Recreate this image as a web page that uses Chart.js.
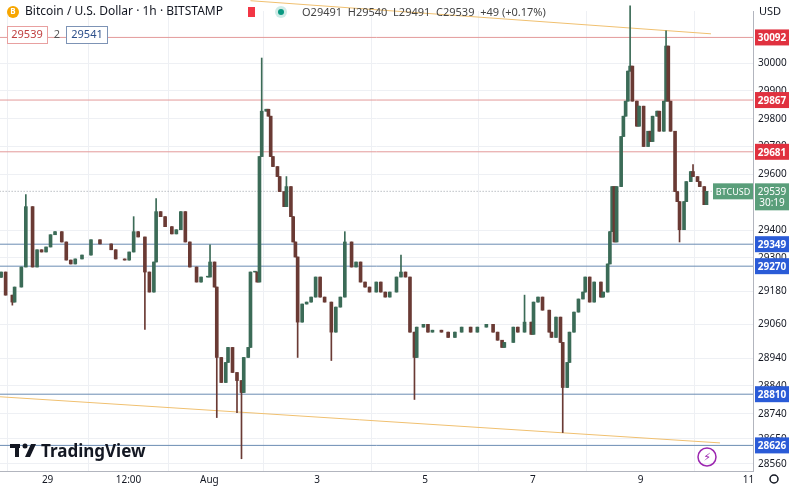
<!DOCTYPE html>
<html>
<head>
<meta charset="utf-8">
<script src="https://cdn.jsdelivr.net/npm/chart.js@4"></script>
<style>
  html, body { margin: 0; padding: 0; background: #fff; }
  #wrap { width: 792px; height: 489px; position: relative; }
</style>
</head>
<body>
<div id="wrap"><canvas id="btcChart" width="792" height="489"></canvas></div>
<script>
// hours since first candle (Jul 28 ~03:00)
const hours = [0,2,5,6,9,11,14,16,18,20,22,24,27,29,31,33,36,40,44,49,51,55,57,59,61,64,66,68,69,71,
  73,76,78,80,82,84,87,89,92,93,95,96,98,100,101,103,105,107,108,110,111,113,114,
  115,116,118,119,120,121,123,124,126,127,129,130,131,132,134,136,138,140,142,144,
  147,149,151,153,156,158,160,162,164,167,169,171,173,176,178,180,182,184,185,188,
  190,192,196,199,202,205,209,212,216,219,221,223,224,228,230,233,236,237,239,241,
  244,245,247,249,250,252,253,255,257,259,260,262,264,267,268,270,271,272,273,274,
  276,277,278,279,280,281,283,284,286,288,289,290,292,293,295,296,297,298,300,301,
  302,304,305,307,308,310,311,313,314];
const closes = [29249,29166,29141,29195,29267,29484,29267,29329,29321,29339,29383,29394,29357,29292,29278,29296,29310,29365,29350,29329,
  29296,29292,29321,29394,29375,29249,29177,29285,29466,29448,29412,29386,29401,29466,29357,29267,29213,29231,29231,29285,
  29195,28942,28852,28924,28978,28888,28859,28816,28942,28978,29249,29249,29213,
  29664,29827,29834,29809,29664,29628,29592,29538,29484,29556,29448,29357,29303,29069,29134,29141,29159,29231,29159,29141,
  29033,29123,29159,29357,29267,29285,29213,29195,29177,29213,29177,29159,29177,29231,29249,29231,29033,28942,29051,29061,
  29033,29040,29033,29014,29033,29051,29033,29051,29061,29033,29004,28978,28996,29051,29033,29069,29025,29141,29159,29112,
  29033,29014,29087,28996,28834,28924,29033,29105,29152,29177,29231,29141,29213,29159,29177,29278,29394,29556,29357,29556,
  29736,29809,29863,29971,29989,29863,29773,29845,29700,29755,29718,29809,29827,29755,29863,30061,29863,29755,29538,29502,
  29401,29502,29574,29610,29592,29574,29556,29491,29539];
const firstOpen = 29230;
// wick extremes by hour
const highSpikes = {11:29527, 59:29448, 69:29513, 93:29347, 116:30018, 127:29592, 153:29394, 178:29310, 233:29166, 280:30206, 296:30116, 308:29635};
const lowSpikes = {5:29130, 64:29043, 96:28726, 105:28744, 107:28578, 132:28942, 147:28931, 184:28791, 250:28672, 302:29357};

const resistance = [30092, 29867, 29681];
const support = [29349, 29270, 28810, 28626];
const lastPrice = 29539;
const upperTrend = [{x:111, y:30224}, {x:316, y:30105}];
const lowerTrend = [{x:-1, y:28801}, {x:320, y:28635}];
const yTicks = [30000,29900,29800,29700,29600,29400,29300,29180,29060,28940,28840,28740,28650,28560];
const xTickHours = [20.7, 56.7, 92.7, 140.7, 188.7, 236.7, 284.7, 332.7];
const xTickLabels = ['29', '12:00', 'Aug', '3', '5', '7', '9', '11'];

const upColor = "#3b6b57", downColor = "#6a3a34";
const wicks = [], bodies = [], colors = [];
hours.forEach((h, i) => {
  const o = i === 0 ? firstOpen : closes[i - 1];
  const c = closes[i];
  const hi = highSpikes[h] !== undefined ? highSpikes[h] : Math.max(o, c);
  const lo = lowSpikes[h] !== undefined ? lowSpikes[h] : Math.min(o, c);
  wicks.push({x: h, y: [lo, hi]});
  bodies.push({x: h, y: [Math.min(o, c), Math.max(o, c) + (o === c ? 3 : 0)]});
  colors.push(c >= o ? upColor : downColor);
});

const hLine = (p, col, dash) => ({
  type: 'line', data: [{x:-2, y:p}, {x:340, y:p}], borderColor: col, borderWidth: 1,
  borderDash: dash || [], pointRadius: 0, order: 5
});

const overlay = {
  id: 'overlay',
  afterDraw(chart) {
    const ctx = chart.ctx, ys = chart.scales.y;
    ctx.save();
    // header
    ctx.fillStyle = "#f7a600";
    ctx.beginPath(); ctx.arc(13, 12, 6, 0, Math.PI * 2); ctx.fill();
    ctx.fillStyle = "#fff"; ctx.font = "bold 8px 'Noto Sans'"; ctx.textAlign = "center"; ctx.textBaseline = "middle";
    ctx.fillText("B", 13, 12);
    ctx.textAlign = "left";
    ctx.fillStyle = "#131722"; ctx.font = "12px 'Noto Sans'";
    ctx.fillText("Bitcoin / U.S. Dollar · 1h · BITSTAMP", 25, 12);
    ctx.fillStyle = "#f23645"; ctx.fillRect(248, 7, 7, 10);
    ctx.fillStyle = "rgba(8,153,129,0.2)"; ctx.beginPath(); ctx.arc(281, 12, 6, 0, Math.PI * 2); ctx.fill();
    ctx.fillStyle = "#089981"; ctx.beginPath(); ctx.arc(281, 12, 3, 0, Math.PI * 2); ctx.fill();
    ctx.fillStyle = "#444"; ctx.font = "11px 'Noto Sans'";
    ctx.fillText("O29491  H29540  L29491  C29539  +49 (+0.17%)", 302, 13);
    // bid/ask boxes
    ctx.fillStyle = "#fff";
    ctx.fillRect(7, 26, 41, 18); ctx.fillRect(66, 26, 42, 18);
    ctx.lineWidth = 1;
    ctx.strokeStyle = "#e8a0a0"; ctx.strokeRect(7.5, 26.5, 40, 17);
    ctx.strokeStyle = "#7d93b5"; ctx.strokeRect(66.5, 26.5, 41, 17);
    ctx.font = "11px 'Noto Sans'"; ctx.textAlign = "center";
    ctx.fillStyle = "#c04040"; ctx.fillText("29539", 27, 35);
    ctx.fillStyle = "#555"; ctx.fillText("2", 57, 35);
    ctx.fillStyle = "#2c4f8a"; ctx.fillText("29541", 87, 35);
    // USD
    ctx.textAlign = "left"; ctx.fillStyle = "#131722"; ctx.fillText("USD", 759, 12);
    // price tags
    const tag = (p, col, txt) => {
      const y = ys.getPixelForValue(p);
      ctx.fillStyle = col; ctx.fillRect(755, y - 8, 34, 16);
      ctx.fillStyle = "#fff"; ctx.font = "bold 10px 'Noto Sans'"; ctx.textAlign = "center";
      ctx.fillText(txt, 772, y + 1);
    };
    resistance.forEach(p => tag(p, "#e0313f", String(p)));
    support.forEach(p => tag(p, "#2a5bd7", String(p)));
    const ly = ys.getPixelForValue(lastPrice);
    ctx.fillStyle = "#5a9e7a"; ctx.fillRect(713, ly - 8, 40, 16); ctx.fillRect(755, ly - 8, 34, 27);
    ctx.fillStyle = "#fff"; ctx.font = "9px 'Noto Sans'"; ctx.textAlign = "center";
    ctx.fillText("BTCUSD", 733, ly + 1);
    ctx.font = "10px 'Noto Sans'";
    ctx.fillText(String(lastPrice), 772, ly + 1); ctx.fillText("30:19", 772, ly + 12);
    // TradingView logo
    ctx.fillStyle = "#131722";
    ctx.fillRect(10, 444, 10, 4); ctx.fillRect(15, 444, 4, 13);
    ctx.beginPath(); ctx.arc(25, 446, 2.5, 0, Math.PI * 2); ctx.fill();
    ctx.beginPath(); ctx.moveTo(31, 444); ctx.lineTo(36, 444); ctx.lineTo(30, 457); ctx.lineTo(25, 457); ctx.fill();
    ctx.textAlign = "left"; ctx.font = "bold 17px 'Noto Sans'";
    ctx.fillText("TradingView", 41, 452);
    // lightning circle
    ctx.strokeStyle = "#9c27b0"; ctx.lineWidth = 1.5;
    ctx.beginPath(); ctx.arc(707, 457, 9, 0, Math.PI * 2); ctx.stroke();
    ctx.fillStyle = "#9c27b0"; ctx.font = "bold 11px 'DejaVu Sans'"; ctx.textAlign = "center";
    ctx.fillText("⚡", 707, 458);
    // gear
    ctx.strokeStyle = "#131722"; ctx.lineWidth = 1.5;
    ctx.beginPath(); ctx.arc(774, 479, 4, 0, Math.PI * 2); ctx.stroke();
    ctx.restore();
  }
};

new Chart(document.getElementById("btcChart"), {
  type: 'bar',
  data: {
    datasets: [
      ...resistance.map(p => hLine(p, "#e39a9a")),
      ...support.map(p => hLine(p, "#6b8cb3")),
      hLine(lastPrice, "#9aa0a8", [1, 2]),
      { type: 'line', data: upperTrend, borderColor: "#f0c070", borderWidth: 1, pointRadius: 0, order: 5, clip: false },
      { type: 'line', data: lowerTrend, borderColor: "#f0c070", borderWidth: 1, pointRadius: 0, order: 5 },
      { data: wicks, backgroundColor: colors, barThickness: 1, grouped: false, order: 2, clip: false },
      { data: bodies, backgroundColor: colors, barThickness: 3, grouped: false, order: 1, clip: false }
    ]
  },
  plugins: [overlay],
  options: {
    responsive: false,
    animation: false,
    layout: { padding: 0 },
    plugins: { legend: { display: false }, tooltip: { enabled: false } },
    scales: {
      x: {
        type: 'linear', min: -0.5, max: 334.7, offset: false,
        afterBuildTicks: s => { s.ticks = xTickHours.map(v => ({value: v})); },
        ticks: { callback: (v, i) => xTickLabels[i], color: "#131722", font: { size: 10, family: "Noto Sans" }, maxRotation: 0, padding: 3 },
        grid: { color: "#eef0f4", drawTicks: false },
        border: { color: "#b2b5be" }
      },
      y: {
        position: 'right', min: 28534, max: 30187,
        afterBuildTicks: s => { s.ticks = yTicks.map(v => ({value: v})); },
        afterFit: s => { s.width = 39; },
        ticks: { callback: v => String(v), color: "#131722", font: { size: 10, family: "Noto Sans" }, padding: 5 },
        grid: { color: "#eef0f4", drawTicks: false },
        border: { color: "#b2b5be" }
      }
    }
  }
});
</script>
</body>
</html>
